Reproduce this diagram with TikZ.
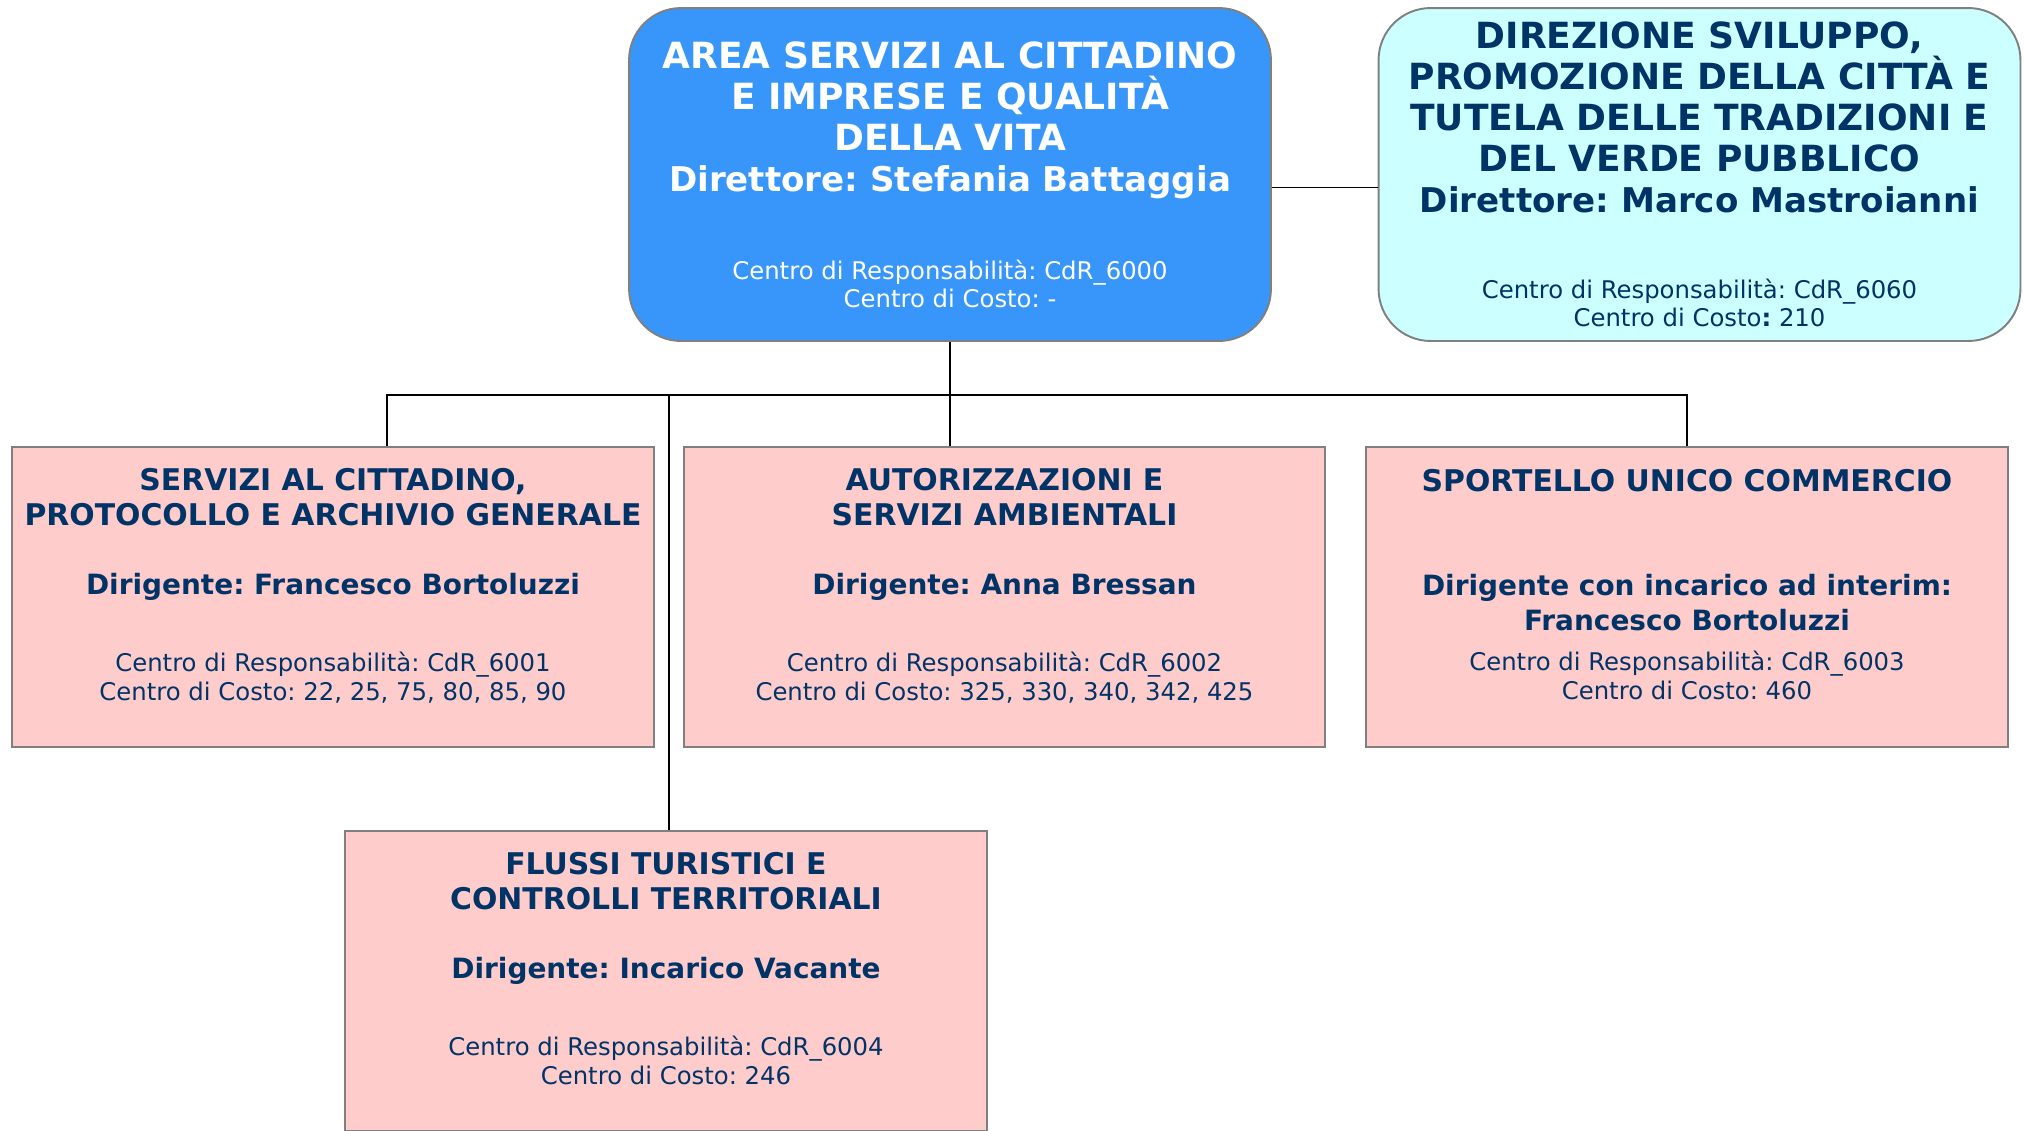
\documentclass[tikz,border=0pt]{standalone}
\usepackage{fontspec}
\setmainfont{DejaVu Sans}
\usepackage{tikz}
\usetikzlibrary{positioning,calc}
\frenchspacing

\definecolor{areablue}{HTML}{3896FA}
\definecolor{dircyan}{HTML}{CCFFFF}
\definecolor{uopink}{HTML}{FFCCCC}
\definecolor{navy}{HTML}{003366}
\definecolor{edgegray}{HTML}{808080}

\newcommand\cdr[1]{{\mdseries\fontsize{13.85}{16}\selectfont #1}}
\newcommand\capo[1]{{\fontsize{19.4}{23.3}\selectfont #1}}
\newcommand\dirig[1]{{\fontsize{15.9}{19.8}\selectfont #1}}
\newcommand\fixlines{\setlength\lineskiplimit{-100pt}\relax}

\tikzset{
  dirbox/.style={draw=edgegray, line width=1.1pt, rounded corners=1.04cm,
    minimum width=12.84cm, minimum height=6.66cm, align=center, inner sep=0pt,
    font=\fontsize{20.5}{23.3}\selectfont\bfseries\fixlines},
  uobox/.style={draw=edgegray, line width=1.1pt, fill=uopink, text=navy,
    minimum width=12.84cm, minimum height=6cm, align=center, inner sep=0pt,
    text depth=14.5pt,
    font=\fontsize{17}{19.8}\selectfont\bfseries\fixlines},
  link/.style={draw=black, line width=0.75pt}
}

\begin{document}
\begin{tikzpicture}[x=0.02cm, y=-0.02cm]
\useasboundingbox (0,0) rectangle (2024,1130);

% direzioni
\node[dirbox, fill=areablue, text=white] (area) at (950,174.5)
  {AREA SERVIZI AL CITTADINO\\E IMPRESE E QUALITÀ\\DELLA VITA\\\capo{Direttore: Stefania Battaggia}\\[26.7pt]
   \cdr{Centro di Responsabilità: CdR\_6000}\\[-7.4pt]\cdr{Centro di Costo: -}};
\node[dirbox, fill=dircyan, text=navy] (svil) at (1699.5,174.5)
  {DIREZIONE SVILUPPO,\\PROMOZIONE DELLA CITTÀ E\\TUTELA DELLE TRADIZIONI E\\DEL VERDE PUBBLICO\\\capo{Direttore: Marco Mastroianni}\\[25.8pt]
   \cdr{Centro di Responsabilità: CdR\_6060}\\[-7.4pt]\cdr{Centro di Costo\textbf{:} 210}};

% servizi
\node[uobox] (servizi) at (333,597)
  {SERVIZI AL CITTADINO,\\PROTOCOLLO E ARCHIVIO GENERALE\\[19.7pt]\dirig{Dirigente: Francesco Bortoluzzi}\\[24.1pt]
   \cdr{Centro di Responsabilità: CdR\_6001}\\[-3.5pt]\cdr{Centro di Costo: 22, 25, 75, 80, 85, 90}};
\node[uobox] (autor) at (1004.5,597)
  {AUTORIZZAZIONI E\\SERVIZI AMBIENTALI\\[19.7pt]\dirig{Dirigente: Anna Bressan}\\[24.1pt]
   \cdr{Centro di Responsabilità: CdR\_6002}\\[-3.5pt]\cdr{Centro di Costo: 325, 330, 340, 342, 425}};
\node[uobox] (suap) at (1687,597)
  {SPORTELLO UNICO COMMERCIO\\[39.5pt]\dirig{Dirigente con incarico ad interim:}\\\dirig{Francesco Bortoluzzi}\\[3.4pt]
   \cdr{Centro di Responsabilità: CdR\_6003}\\[-3.5pt]\cdr{Centro di Costo: 460}};
\node[uobox] (flussi) at (666,981)
  {FLUSSI TURISTICI E\\CONTROLLI TERRITORIALI\\[19.7pt]\dirig{Dirigente: Incarico Vacante}\\[24.1pt]
   \cdr{Centro di Responsabilità: CdR\_6004}\\[-3.5pt]\cdr{Centro di Costo: 246}};

% collegamenti
\coordinate (bus) at (950,395);
\coordinate (ad) at ($(area.east)+(0,13)$);
\coordinate (ftap) at ($(flussi.north)+(3,0)$);
\draw[link] (ad) -- (ad -| svil.west);
\draw[link] (area.south) -- (area.south |- autor.north);
\draw[link] ($(servizi.north)+(54,0)$) |- (bus) -| (suap.north);
\draw[link] (ftap) -- (ftap |- bus);
\end{tikzpicture}
\end{document}
